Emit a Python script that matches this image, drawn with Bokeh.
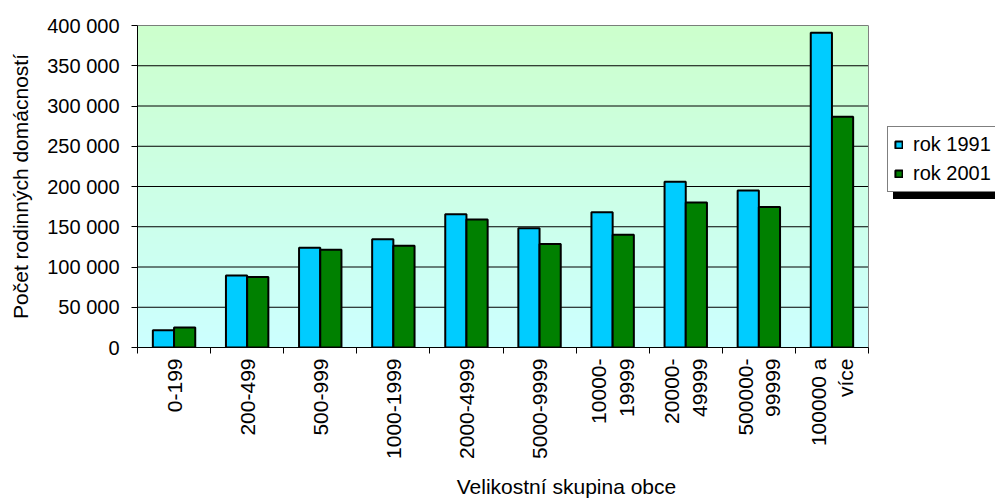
import math
import numpy as np
from bokeh.plotting import figure
from bokeh.models import (Range1d, FixedTicker, LinearAxis, CustomJSTickFormatter,
                          Legend, LegendItem)
from bokeh.embed import file_html
from bokeh.resources import INLINE

# ---- data ----
categories = ["0-199", "200-499", "500-999", "1000-1999", "2000-4999", "5000-9999",
              "10000-\n19999", "20000-\n49999", "500000-\n99999", "100000 a\nvíce"]
rok_1991 = [21500, 89500, 124000, 134500, 165500, 148000, 168000, 206000, 195000, 391000]
rok_2001 = [25000, 87500, 121500, 126500, 159000, 128500, 140000, 180000, 174500, 286500]
series_names = ["rok 1991", "rok 2001"]
y_ticks = [0, 50000, 100000, 150000, 200000, 250000, 300000, 350000, 400000]
x_title = "Velikostní skupina obce"
y_title = "Počet rodinných domácností"

FONT = "Liberation Sans"
n = len(categories)
y_max = y_ticks[-1]

# layout: plot area from x=137 to 868 inside a frame that reaches the right edge
W, H = 995, 500
LEFT, TOP, RIGHT_EDGE, BOTTOM = 137, 25, 868, 347
x_end = n * (W - LEFT) / (RIGHT_EDGE - LEFT)

p = figure(width=W, height=H, x_range=Range1d(0, x_end), y_range=Range1d(0, y_max),
           output_backend="svg", toolbar_location=None,
           x_axis_location=None, y_axis_location=None,
           min_border_left=LEFT, min_border_right=0, min_border_top=TOP,
           min_border_bottom=H - BOTTOM)
p.outline_line_color = None
p.background_fill_color = "white"
p.border_fill_color = "white"
p.xgrid.visible = False
p.ygrid.visible = False

# gradient background of plot area
rows = 256
t = np.linspace(0, 1, rows)
top_c = np.array([204, 255, 204])
bot_c = np.array([204, 255, 255])
img = np.empty((rows, 1), dtype=np.uint32)
view = img.view(dtype=np.uint8).reshape((rows, 1, 4))
for i in range(rows):
    c = bot_c + (top_c - bot_c) * t[i]
    view[i, 0, 0] = int(round(c[0]))
    view[i, 0, 1] = int(round(c[1]))
    view[i, 0, 2] = int(round(c[2]))
    view[i, 0, 3] = 255
p.image_rgba(image=[img], x=0, y=0, dw=n, dh=y_max, level="image")

# horizontal grid lines across the plot area only
p.segment(x0=[0] * len(y_ticks), x1=[n] * len(y_ticks), y0=y_ticks, y1=y_ticks,
          line_color="#000000", line_width=1, level="underlay")
# right border of plot area
p.segment(x0=[n], x1=[n], y0=[0], y1=[y_max], line_color="#808080", line_width=1,
          level="underlay")

# bars
centers = np.arange(n) + 0.5
bw = 0.29
r1 = p.vbar(x=centers - bw / 2, top=rok_1991, width=bw, bottom=0,
            fill_color="#00CCFF", line_color="black", line_width=2)
r2 = p.vbar(x=centers + bw / 2, top=rok_2001, width=bw, bottom=0,
            fill_color="#008000", line_color="black", line_width=2)

# y axis
yax = LinearAxis(ticker=FixedTicker(ticks=y_ticks),
                 formatter=CustomJSTickFormatter(code="return Math.round(tick).toString().replace(/\\B(?=(\\d{3})+(?!\\d))/g, ' ');"),
                 axis_label=y_title)
yax.major_tick_out = 6
yax.major_tick_in = 0
yax.minor_tick_line_color = None
yax.axis_line_color = "black"
yax.major_tick_line_color = "black"
yax.major_label_standoff = 12
yax.major_label_text_font = FONT
yax.major_label_text_font_size = "20px"
yax.major_label_text_color = "black"
yax.axis_label_text_font = FONT
yax.axis_label_text_font_size = "21px"
yax.axis_label_text_font_style = "normal"
yax.axis_label_text_color = "black"
yax.axis_label_standoff = 12
p.add_layout(yax, "left")

# x axis with ticks at category boundaries (no labels)
xtick_ax = LinearAxis(ticker=FixedTicker(ticks=list(range(n + 1))),
                      formatter=CustomJSTickFormatter(code="return '';"),
                      bounds=(0, n))
xtick_ax.major_tick_out = 6
xtick_ax.major_tick_in = 0
xtick_ax.minor_tick_line_color = None
xtick_ax.axis_line_color = "black"
xtick_ax.major_tick_line_color = "black"
xtick_ax.major_label_standoff = 0
xtick_ax.major_label_text_font_size = "1px"
p.add_layout(xtick_ax, "below")

# x axis with category labels at centers
xlab_ax = LinearAxis(ticker=FixedTicker(ticks=list(centers)),
                     formatter=CustomJSTickFormatter(args=dict(labels=categories),
                                                     code="return labels[Math.floor(tick)];"),
                     axis_label=x_title)
xlab_ax.axis_line_color = None
xlab_ax.major_tick_line_color = None
xlab_ax.minor_tick_line_color = None
xlab_ax.major_tick_out = 0
xlab_ax.major_tick_in = 0
xlab_ax.major_label_orientation = math.pi / 2
xlab_ax.major_label_standoff = 5
xlab_ax.major_label_text_font = FONT
xlab_ax.major_label_text_font_size = "21px"
xlab_ax.major_label_text_color = "black"
xlab_ax.axis_label_text_font = FONT
xlab_ax.axis_label_text_font_size = "21px"
xlab_ax.axis_label_text_font_style = "normal"
xlab_ax.axis_label_text_color = "black"
xlab_ax.axis_label_standoff = 13
p.add_layout(xlab_ax, "below")

# legend (with shadow)
def make_legend(loc, bg):
    lg = Legend(items=[LegendItem(label=series_names[0], renderers=[r1]),
                       LegendItem(label=series_names[1], renderers=[r2])],
                location=loc, orientation="vertical")
    lg.glyph_width = 9
    lg.glyph_height = 9
    lg.label_text_font = FONT
    lg.label_text_font_size = "20px"
    lg.label_text_color = "black"
    lg.label_standoff = 10
    lg.padding = 6
    lg.spacing = 6
    lg.margin = 0
    lg.border_line_color = "black"
    lg.border_line_width = 1
    lg.background_fill_color = bg
    lg.background_fill_alpha = 1
    return lg

p.add_layout(make_legend((756, 148), "black"), "center")
p.add_layout(make_legend((750, 155), "white"), "center")

open("out.html", "w").write(file_html(p, INLINE))
